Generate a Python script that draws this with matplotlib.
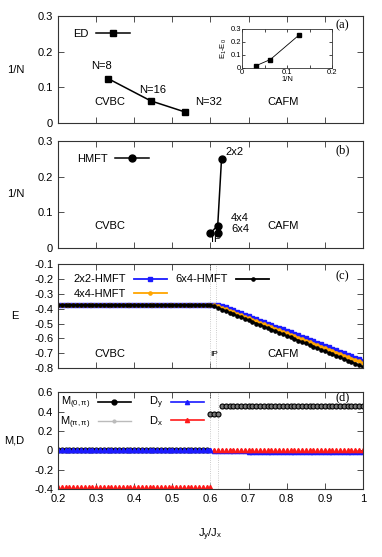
import matplotlib
matplotlib.use("Agg")
import matplotlib.pyplot as plt
from matplotlib.ticker import FuncFormatter, MultipleLocator

plt.rcParams['font.family'] = ['Liberation Sans', 'DejaVu Sans']
plt.rcParams['mathtext.fontset'] = 'custom'
plt.rcParams['mathtext.rm'] = 'Liberation Sans'
plt.rcParams['mathtext.it'] = 'Liberation Sans'

# ---------------- data ----------------
# (a) ED
ed_x = [0.331, 0.443, 0.533]
ed_invN = [0.125, 0.0625, 0.03125]
ed_labels = ["N=8", "N=16", "N=32"]
inset_invN = [0.03125, 0.0625, 0.125]
inset_gap = [0.018, 0.065, 0.25]

# (b) HMFT
hmft_line_x = [0.629, 0.619, 0.600]
hmft_line_y = [0.25, 0.0625, 0.0417]
hmft_pts_x = [0.629, 0.619, 0.619, 0.600]
hmft_pts_y = [0.25, 0.0625, 0.0417, 0.0417]

# (c),(d) common grid
jy = [0.20, 0.21, 0.22, 0.23, 0.24, 0.25, 0.26, 0.27, 0.28, 0.29,
      0.30, 0.31, 0.32, 0.33, 0.34, 0.35, 0.36, 0.37, 0.38, 0.39,
      0.40, 0.41, 0.42, 0.43, 0.44, 0.45, 0.46, 0.47, 0.48, 0.49,
      0.50, 0.51, 0.52, 0.53, 0.54, 0.55, 0.56, 0.57, 0.58, 0.59,
      0.60, 0.61, 0.62, 0.63, 0.64, 0.65, 0.66, 0.67, 0.68, 0.69,
      0.70, 0.71, 0.72, 0.73, 0.74, 0.75, 0.76, 0.77, 0.78, 0.79,
      0.80, 0.81, 0.82, 0.83, 0.84, 0.85, 0.86, 0.87, 0.88, 0.89,
      0.90, 0.91, 0.92, 0.93, 0.94, 0.95, 0.96, 0.97, 0.98, 0.99,
      1.00]

E_2x2 = [-0.375] * 43 + [
    -0.380, -0.390, -0.400, -0.410, -0.420, -0.430, -0.440,
    -0.450, -0.460, -0.470, -0.480, -0.490, -0.500, -0.510, -0.520, -0.530,
    -0.540, -0.550, -0.560, -0.570, -0.580, -0.590, -0.600, -0.610, -0.620,
    -0.630, -0.640, -0.650, -0.660, -0.670, -0.680, -0.690, -0.700, -0.710,
    -0.720, -0.730, -0.740, -0.750]
E_4x4 = [-0.375] * 42 + [
    -0.385, -0.395, -0.405, -0.415, -0.425, -0.435, -0.445, -0.455,
    -0.465, -0.475, -0.485, -0.495, -0.505, -0.515, -0.525, -0.535, -0.545,
    -0.555, -0.565, -0.575, -0.585, -0.595, -0.605, -0.615, -0.625, -0.635,
    -0.645, -0.655, -0.665, -0.675, -0.685, -0.695, -0.705, -0.715, -0.725,
    -0.735, -0.745, -0.755, -0.765]
E_6x4 = [-0.375] * 41 + [
    -0.385, -0.396, -0.406, -0.417, -0.427, -0.437, -0.448, -0.458,
    -0.468, -0.479, -0.489, -0.500, -0.510, -0.520, -0.531, -0.541, -0.552,
    -0.562, -0.572, -0.583, -0.593, -0.603, -0.614, -0.624, -0.634, -0.645,
    -0.655, -0.666, -0.676, -0.686, -0.697, -0.707, -0.717, -0.728, -0.738,
    -0.749, -0.759, -0.769, -0.780, -0.790]

M_0pi = [0.0] * 40 + [0.375, 0.375, 0.375] + [0.46] * 38
M_pipi = [0.0] * 81
D_y = [0.0] * 41 + [
    -0.008, -0.009, -0.010, -0.010, -0.011, -0.011, -0.012, -0.012,
    -0.012, -0.013, -0.013, -0.013, -0.014, -0.014, -0.014, -0.015, -0.015,
    -0.015, -0.015, -0.016, -0.016, -0.016, -0.016, -0.017, -0.017, -0.017,
    -0.017, -0.018, -0.018, -0.018, -0.018, -0.019, -0.019, -0.019, -0.019,
    -0.020, -0.020, -0.020, -0.020, -0.021]
D_x = [-0.375] * 41 + [0.0] * 40

# ---------------- figure ----------------
fig = plt.figure(figsize=(3.82, 5.57), dpi=100)
L, W = 0.152, 0.798
axa = fig.add_axes([L, 0.779, W, 0.192])
axb = fig.add_axes([L, 0.555, W, 0.192])
axc = fig.add_axes([L, 0.339, W, 0.187])
axd = fig.add_axes([L, 0.122, W, 0.174])

FS = 8
fmt = FuncFormatter(lambda v, p: ('%g' % round(v, 3)))
for ax in (axa, axb, axc, axd):
    ax.set_xlim(0.2, 1.0)
    ax.xaxis.set_major_locator(MultipleLocator(0.1))
    ax.tick_params(direction='in', top=True, right=True, length=4,
                   width=0.6, labelsize=FS, colors='#333333', labelcolor='black')
    ax.yaxis.set_major_formatter(fmt)
    ax.xaxis.set_major_formatter(fmt)
    for s in ax.spines.values():
        s.set_linewidth(0.8)
        s.set_color('#333333')
for ax in (axa, axb, axc):
    ax.tick_params(labelbottom=False)

# (a)
axa.set_ylim(0, 0.3)
axa.yaxis.set_major_locator(MultipleLocator(0.1))
axa.plot(ed_x, ed_invN, '-s', color='black', lw=1.1, ms=5, label='ED')
axa.text(0.315, 0.16, ed_labels[0], fontsize=FS, ha='center', va='center')
axa.text(0.447, 0.093, ed_labels[1], fontsize=FS, ha='center', va='center')
axa.text(0.559, 0.06, ed_labels[2], fontsize=FS, ha='left', va='center')
axa.text(0.335, 0.06, 'CVBC', fontsize=FS, ha='center', va='center')
axa.text(0.79, 0.06, 'CAFM', fontsize=FS, ha='center', va='center')
axa.text(0.965, 0.275, '(a)', fontsize=FS + 1, ha='right', va='center',
         family='Liberation Serif')
axa.legend(loc='center left', bbox_to_anchor=(0.05, 0.833), frameon=False,
           markerfirst=False, fontsize=FS, handlelength=3.0, handletextpad=0.7,
           borderpad=0, borderaxespad=0, numpoints=1)
axa.set_ylabel('1/N', rotation=0, fontsize=FS, labelpad=16, va='center')

ins = fig.add_axes([0.634, 0.878, 0.236, 0.070])
ins.plot(inset_invN, inset_gap, '-s', color='black', lw=0.6, ms=3)
ins.set_xlim(0, 0.2)
ins.set_ylim(0, 0.3)
ins.set_xticks([0, 0.1, 0.2])
ins.set_xticks([0.05, 0.15], minor=True)
ins.set_yticks([0, 0.1, 0.2, 0.3])
ins.xaxis.set_major_formatter(fmt)
ins.yaxis.set_major_formatter(fmt)
ins.tick_params(which='both', direction='in', top=True, right=True, length=2.5,
                width=0.5, labelsize=5.5, pad=1)
for s in ins.spines.values():
    s.set_linewidth(0.6)
    s.set_color('#333333')
ins.set_xlabel('1/N', fontsize=5.5, labelpad=0)
ins.set_ylabel('E$_1$-E$_0$', fontsize=5.5, labelpad=1)

# (b)
axb.set_ylim(0, 0.3)
axb.yaxis.set_major_locator(MultipleLocator(0.1))
axb.plot(hmft_line_x, hmft_line_y, '-', color='black', lw=1.1)
axb.plot(hmft_pts_x, hmft_pts_y, 'o', color='black', ms=5)
axb.plot([], [], '-o', color='black', lw=1.1, ms=5, label='HMFT')
axb.text(0.64, 0.27, '2x2', fontsize=FS, ha='left', va='center')
axb.text(0.654, 0.084, '4x4', fontsize=FS, ha='left', va='center')
axb.text(0.654, 0.053, '6x4', fontsize=FS, ha='left', va='center')
axb.text(0.601, 0.026, 'IP', fontsize=FS, ha='left', va='center')
axb.text(0.335, 0.06, 'CVBC', fontsize=FS, ha='center', va='center')
axb.text(0.79, 0.06, 'CAFM', fontsize=FS, ha='center', va='center')
axb.text(0.965, 0.275, '(b)', fontsize=FS + 1, ha='right', va='center',
         family='Liberation Serif')
axb.legend(loc='center left', bbox_to_anchor=(0.062, 0.833), frameon=False,
           markerfirst=False, fontsize=FS, handlelength=3.0, handletextpad=0.7,
           borderpad=0, borderaxespad=0, numpoints=1)
axb.set_ylabel('1/N', rotation=0, fontsize=FS, labelpad=16, va='center')

# (c)
axc.set_ylim(-0.8, -0.1)
axc.yaxis.set_major_locator(MultipleLocator(0.1))
for xv in (0.6, 0.615):
    axc.axvline(xv, color='#bbbbbb', lw=0.6, ls=':')
axc.plot(jy, E_2x2, '-s', color='#1a1aff', lw=1.3, ms=3, label='2x2-HMFT')
axc.plot(jy, E_4x4, '-o', color='#ffa500', lw=1.3, ms=2.3, label='4x4-HMFT')
axc.plot(jy, E_6x4, '-o', color='black', lw=1.3, ms=2.3, label='6x4-HMFT')
axc.text(0.335, -0.705, 'CVBC', fontsize=FS, ha='center', va='center')
axc.text(0.61, -0.71, 'IP', fontsize=FS - 2, ha='center', va='center')
axc.text(0.79, -0.705, 'CAFM', fontsize=FS, ha='center', va='center')
axc.text(0.965, -0.18, '(c)', fontsize=FS + 1, ha='right', va='center',
         family='Liberation Serif')
axc.legend(loc='upper left', bbox_to_anchor=(0.05, 0.9), frameon=False,
           markerfirst=False, fontsize=FS, handlelength=3.0, handletextpad=0.7,
           borderpad=0, borderaxespad=0, numpoints=1, ncol=2,
           columnspacing=0.8, labelspacing=0.4)
axc.set_ylabel('E', rotation=0, fontsize=FS, labelpad=14, va='center')

# (d)
axd.set_ylim(-0.4, 0.6)
axd.yaxis.set_major_locator(MultipleLocator(0.2))
for xv in (0.6, 0.62):
    axd.axvline(xv, color='#bbbbbb', lw=0.6, ls=':')
axd.plot(jy, M_0pi, 'o', color='black', mfc='#777777', mew=0.8, ms=3.6)
axd.plot(jy, M_pipi, '.', color='#bbbbbb', ms=2)
axd.plot(jy, D_y, '^', color='#1a1aff', ms=3)
axd.plot(jy, D_x, '^', color='#ff1a1a', ms=3)
axd.plot(jy[:41], D_y[:41], '^', color='#1a1aff', ms=3)
axd.plot([], [], '-o', color='black', lw=1.2, ms=3.5, label=r'M$_{(0,\pi)}$')
axd.plot([], [], '-o', color='#bbbbbb', lw=1.0, ms=2, label=r'M$_{(\pi,\pi)}$')
axd.plot([], [], '-^', color='#1a1aff', lw=1.2, ms=3, label='D$_y$')
axd.plot([], [], '-^', color='#ff1a1a', lw=1.2, ms=3, label='D$_x$')
axd.text(0.965, 0.55, '(d)', fontsize=FS + 1, ha='right', va='center',
         family='Liberation Serif')
axd.legend(loc='upper left', bbox_to_anchor=(0.005, 0.97), frameon=False,
           markerfirst=False, fontsize=FS, handlelength=3.0, handletextpad=0.7,
           borderpad=0, borderaxespad=0, numpoints=1, ncol=2,
           columnspacing=1.6, labelspacing=0.25)
axd.set_ylabel('M,D', rotation=0, fontsize=FS, labelpad=14, va='center')
axd.set_xlabel('J$_y$/J$_x$', fontsize=FS, labelpad=16)

fig.savefig('out.png', dpi=100)
